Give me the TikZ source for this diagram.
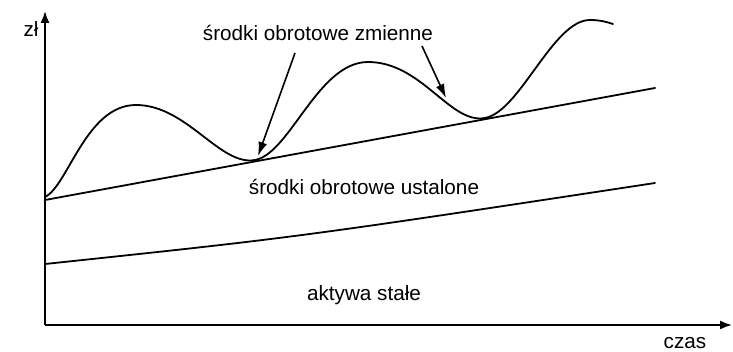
\documentclass[tikz,border=0pt]{standalone}
\usepackage{fontspec}
\setmainfont{Liberation Sans}
\usetikzlibrary{arrows.meta}
\begin{document}
\begin{tikzpicture}[x=1pt,y=-1pt,
  lbl/.style={inner sep=0pt,font=\fontsize{20.7}{24}\selectfont},
  curve/.style={line width=1.8pt,line cap=round},
  axis/.style={line width=1.8pt,-{Latex[length=12pt,width=9pt]}},
  pointer/.style={line width=1.6pt,-{Latex[length=14pt,width=9pt]}}]
\useasboundingbox (0,0) rectangle (733,352);
% axes
\coordinate (O) at (45,325);
\coordinate (Ytip) at (45,11);
\coordinate (Xtip) at (732,325);
\draw[axis] (O) -- (Ytip);
\draw[axis] (O) -- (Xtip);
\node[lbl] (zl) at (31,29) {zł};
\node[lbl] (czas) at (685,343) {czas};
% lines
\coordinate (m0) at (45,200);
\coordinate (m1) at (655,88);
\draw[curve] (m0) -- (m1);
\coordinate (l0) at (45,264);
\coordinate (l1) at (655,183);
\draw[curve] (l0) .. controls (300,237) .. (l1);
% wave
\coordinate (w0) at (45,197);
\draw[curve] (w0) .. controls (68,186) and (86,105) .. (136,105)
  .. controls (187,105) and (220,166.4) .. (255,160)
  .. controls (290,153.6) and (318,62) .. (368,62)
  .. controls (422,62) and (450,124.4) .. (485,118)
  .. controls (520,111.6) and (553,20) .. (590,20)
  .. controls (600,20) and (607,22) .. (613,24);
% labels
\node[lbl] (zm) at (318,33) {środki obrotowe zmienne};
\node[lbl] (us) at (364,187) {środki obrotowe ustalone};
\node[lbl] (ak) at (364,295) {aktywa stałe};
% pointers
\coordinate (p1s) at (295,53);
\coordinate (p1e) at (258,156);
\coordinate (p2s) at (422,46);
\coordinate (p2e) at (446,98);
\draw[pointer] (p1s) -- (p1e);
\draw[pointer] (p2s) -- (p2e);
\end{tikzpicture}
\end{document}
